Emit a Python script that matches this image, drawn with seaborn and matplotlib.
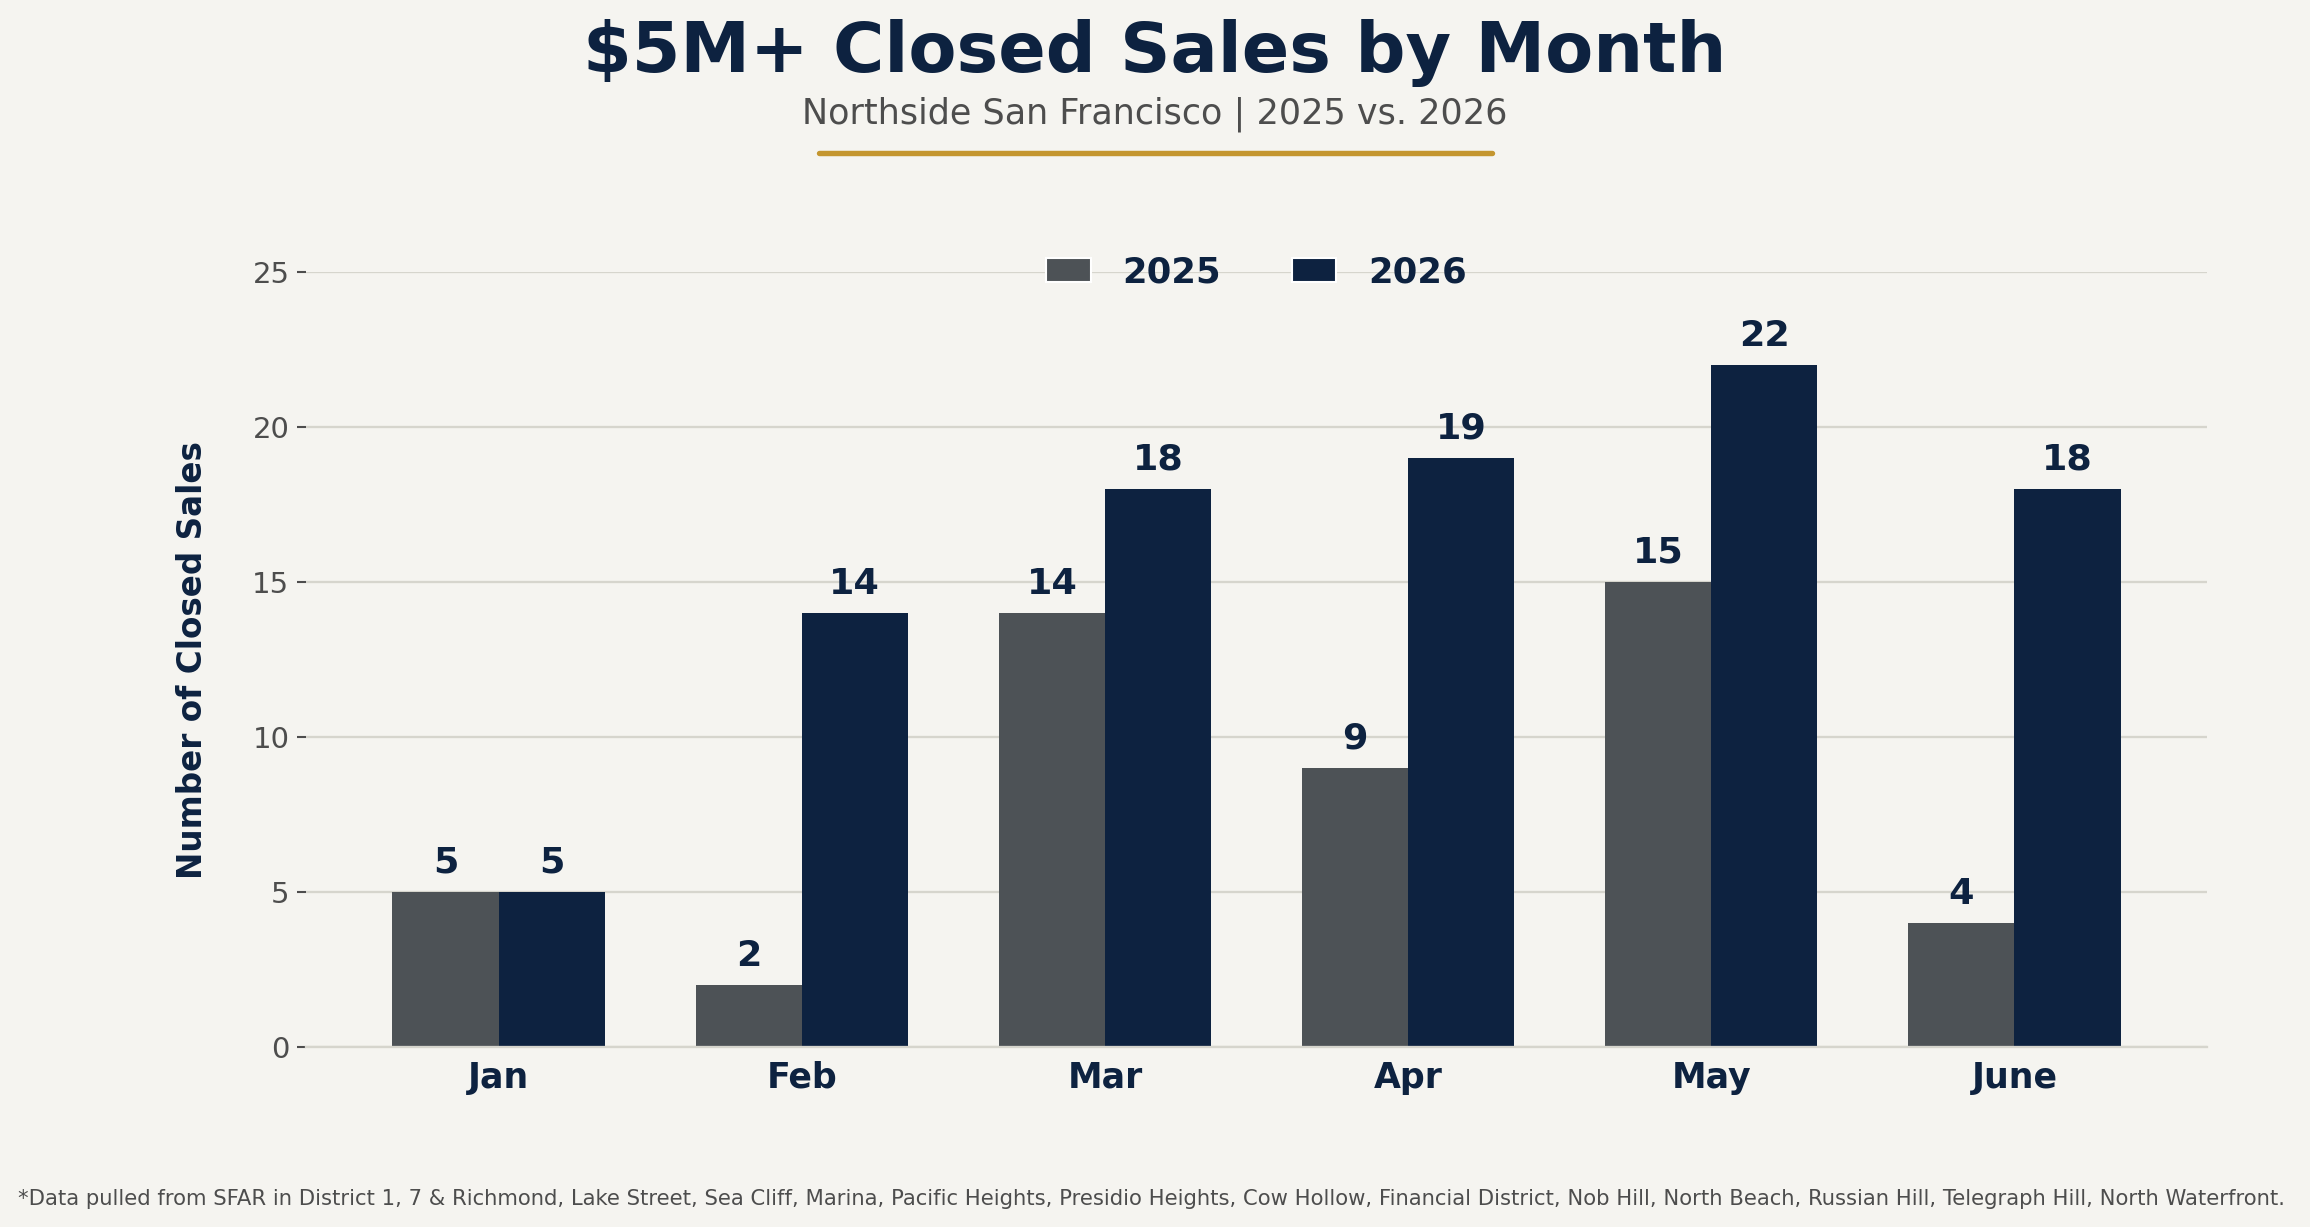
import numpy as np
import pandas as pd
import seaborn as sns
from matplotlib import pyplot as plt
from matplotlib.patches import Patch
from matplotlib.lines import Line2D

# Data
months = ["Jan", "Feb", "Mar", "Apr", "May", "June"]
sales_2025 = [5, 2, 14, 9, 15, 4]
sales_2026 = [5, 14, 18, 19, 22, 18]
years = ["2025", "2026"]

navy = "#0d2240"
slate = "#4d5256"
gold = "#c4962f"
bg = "#f5f4f0"
grey_txt = "#4d4d4d"

df = pd.DataFrame({
    "month": months * 2,
    "sales": sales_2025 + sales_2026,
    "year": [years[0]] * len(months) + [years[1]] * len(months),
})

sns.set_theme(style="white")
plt.rcParams["font.family"] = ["DejaVu Sans"]

fig = plt.figure(figsize=(15.4, 8.18), dpi=150, facecolor=bg)
ax = fig.add_axes([0.1325, 0.1467, 0.8229, 0.6313])
ax.set_facecolor(bg)

sns.barplot(data=df, x="month", y="sales", hue="year", order=months,
            hue_order=years, palette=[slate, navy], width=0.7,
            saturation=1, legend=False, linewidth=0, ax=ax)

# Value labels
for cont in ax.containers:
    ax.bar_label(cont, fmt="%d", padding=6, fontsize=17.5, fontweight="bold", color=navy)

ax.set_xlim(-0.635, 5.635)
ax.set_ylim(0, 25)
ax.set_yticks([0, 5, 10, 15, 20, 25])
ax.yaxis.grid(True, color="#d6d5cd", linewidth=1.1)
ax.set_axisbelow(True)
for s in ["top", "right", "left"]:
    ax.spines[s].set_visible(False)
ax.spines["bottom"].set_color("#d6d5cd")
ax.spines["bottom"].set_linewidth(1.1)

ax.tick_params(axis="y", left=True, length=4.5, width=1, color=grey_txt,
               labelsize=14, labelcolor=grey_txt, pad=3.5)
ax.tick_params(axis="x", bottom=False, length=0, pad=6.5)
for lbl in ax.get_xticklabels():
    lbl.set_fontsize(16.7)
    lbl.set_fontweight("bold")
    lbl.set_color(navy)

ax.set_xlabel("")
ax.set_ylabel("Number of Closed Sales", fontsize=15.7, fontweight="bold",
              color=navy, labelpad=21)

handles = [Patch(facecolor=slate, label=years[0]), Patch(facecolor=navy, label=years[1])]
leg = ax.legend(handles=handles, loc="center", bbox_to_anchor=(0.5, 1.0), ncol=2,
                frameon=False, handlelength=1.25, handleheight=0.7, handletextpad=0.9,
                columnspacing=2.0, prop={"size": 17, "weight": "bold"})
for t in leg.get_texts():
    t.set_color(navy)

# Titles and decoration
fig.text(0.5, 0.957, "$5M+ Closed Sales by Month", ha="center", va="center",
         fontsize=33.6, fontweight="bold", color=navy)
fig.text(0.5, 0.907, "Northside San Francisco | 2025 vs. 2026", ha="center",
         va="center", fontsize=16.8, color=grey_txt)
fig.add_artist(Line2D([0.3545, 0.646], [0.8757, 0.8757], color=gold, linewidth=2.6,
                      transform=fig.transFigure))

fig.text(0.0077, 0.0228,
         "*Data pulled from SFAR in District 1, 7 & Richmond, Lake Street, Sea Cliff, Marina, "
         "Pacific Heights, Presidio Heights, Cow Hollow, Financial District, Nob Hill, "
         "North Beach, Russian Hill, Telegraph Hill, North Waterfront.",
         ha="left", va="center", fontsize=10.15, color=grey_txt)

fig.savefig("out.png", dpi=150, facecolor=bg)
